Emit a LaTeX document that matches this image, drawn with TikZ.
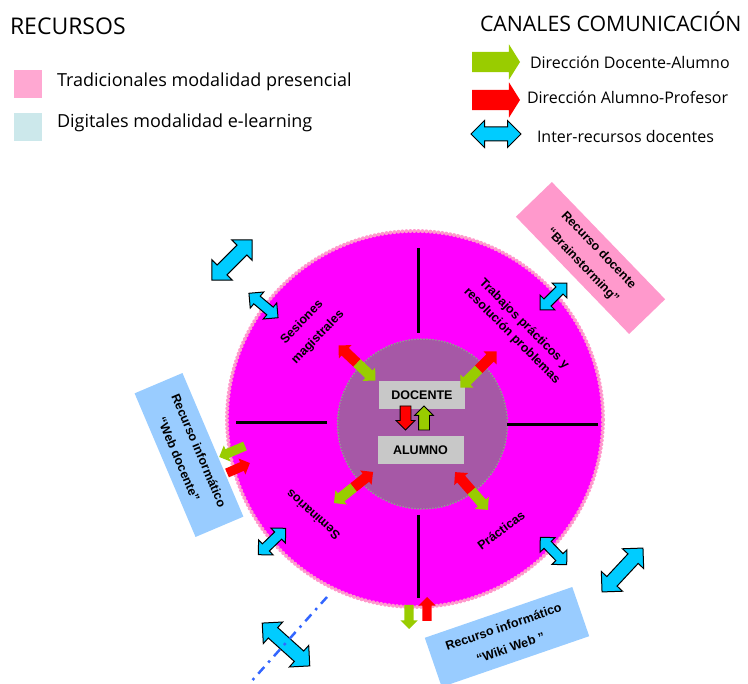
\documentclass[tikz,border=0pt]{standalone}
\usepackage{fontspec}
\setmainfont{Open Sans}
\newfontfamily\arialfont{Liberation Sans}
\usetikzlibrary{shapes.arrows}

\definecolor{ringpink}{RGB}{255,0,255}
\definecolor{ringedge}{RGB}{255,153,204}
\definecolor{corepurple}{RGB}{166,88,166}
\definecolor{coreedge}{RGB}{150,150,150}
\definecolor{taggray}{RGB}{200,200,200}
\definecolor{flowgreen}{RGB}{153,204,0}
\definecolor{flowred}{RGB}{255,0,0}
\definecolor{linkcyan}{RGB}{0,204,255}
\definecolor{boxpink}{RGB}{255,153,204}
\definecolor{boxblue}{RGB}{153,204,255}
\definecolor{keypink}{RGB}{255,168,210}
\definecolor{keycyan}{RGB}{204,232,235}
\definecolor{dashblue}{RGB}{51,102,255}

\begin{document}
\begin{tikzpicture}[x=1pt,y=-1pt]
        \tikzstyle{every node} = [inner sep=0pt, outer sep=0pt]
        \tikzstyle{heading} = [anchor=base west, font=\fontsize{23}{28}\selectfont]
        \tikzstyle{keytext} = [anchor=base west, font=\fontsize{18}{22}\selectfont]
        \tikzstyle{flowtext} = [anchor=base west, font=\fontsize{16}{20}\selectfont]
        \tikzstyle{keybox} = [rectangle, minimum size=28pt]
        \tikzstyle{ringlabel} = [align=center, font=\arialfont\bfseries\fontsize{12.5}{22}\selectfont]
        \tikzstyle{resbox} = [rectangle, align=center, minimum width=156pt, minimum height=52pt, font=\arialfont\bfseries\fontsize{12.5}{22}\selectfont]
        \tikzstyle{namebox} = [rectangle, fill=taggray, minimum width=86pt, minimum height=28pt, font=\arialfont\bfseries\fontsize{12.5}{15}\selectfont]
        \tikzstyle{linkarrow} = [double arrow, draw=black, line width=1pt, fill=linkcyan, inner xsep=0pt, inner ysep=4.5pt, double arrow head extend=5.5pt, minimum height=38pt]
        \tikzstyle{biglink} = [linkarrow, inner ysep=6.5pt, double arrow head extend=7.5pt, minimum height=60pt]
        \tikzstyle{halfarrow} = [single arrow, anchor=tail, inner xsep=0pt, inner ysep=5pt, single arrow head extend=4pt, minimum height=25.5pt]
        \tikzstyle{sidearrow} = [halfarrow, inner ysep=4.5pt, minimum height=26pt]
        \tikzstyle{keyarrow} = [single arrow, anchor=tail, inner xsep=0pt, inner ysep=10pt, single arrow head extend=7.5pt, single arrow tip angle=116, minimum height=48pt]
        \tikzstyle{divider} = [line width=3pt]
        \useasboundingbox (0,0) rectangle (748,684);

        % legend
        \node[heading](recursos) at (10,35) {RECURSOS};
        \node[keybox, fill=keypink](keytrad) at (28,84) {};
        \node[keybox, fill=keycyan](keydig) at (28,127.5) {};
        \node[keytext](trad) at (57,87) {Tradicionales modalidad presencial};
        \node[keytext](dig) at (57,128) {Digitales modalidad e-learning};

        \node[heading, font=\fontsize{21.3}{26}\selectfont](canales) at (480,32) {CANALES COMUNICACIÓN};
        \node[keyarrow, fill=flowgreen](keygreen) at (472,62) {};
        \node[keyarrow, fill=flowred](keyred) at (472,100) {};
        \node[linkarrow, inner ysep=6.5pt, double arrow head extend=6.5pt, minimum height=50pt](keylink) at (496,134) {};
        \node[flowtext](dirda) at (530,68.5) {Dirección Docente-Alumno};
        \node[flowtext](dirap) at (527,104) {Dirección Alumno-Profesor};
        \node[flowtext](inter) at (537,143) {Inter-recursos docentes};

        % rings
        \node[circle, fill=ringpink, draw=ringedge, line width=4pt, dash pattern=on 0pt off 4pt, line cap=round, minimum size=376pt](ring) at (415,419) {};
        \node[circle, fill=corepurple, draw=coreedge, line width=2pt, dash pattern=on 0pt off 3pt, line cap=round, minimum size=170pt](core) at (422.5,424) {};

        \draw[divider] (418,248) -- (418,333);
        \draw[divider] (418,515) -- (418,598);
        \draw[divider] (236,423) -- (327,423);
        \draw[divider] (507,424.5) -- (598,424.5);

        \node[ringlabel, rotate=46](sesiones) at (310,330) {Sesiones\\magistrales};
        \node[ringlabel, rotate=-45, font=\arialfont\bfseries\fontsize{12.5}{17}\selectfont](trabajos) at (518,330) {Trabajos prácticos y\\resolución problemas};
        \node[ringlabel, rotate=138](seminarios) at (313,515) {Seminarios};
        \node[ringlabel, rotate=37](practicas) at (501,530) {Prácticas};

        % docente / alumno
        \node[namebox](docente) at (422,395) {DOCENTE};
        \node[namebox](alumno) at (420.5,450) {ALUMNO};
        \node[halfarrow, draw=black, line width=0.8pt, fill=flowred, rotate=-90, minimum height=24pt](toalumno) at (405.5,406) {};
        \node[halfarrow, draw=black, line width=0.8pt, fill=flowgreen, rotate=90, minimum height=24pt](todocente) at (424,430) {};

        % two-colour arrows
        \node[halfarrow, fill=flowred, rotate=136.5](tlred) at (357,363) {};
        \node[halfarrow, fill=flowgreen, rotate=-43.5](tlgreen) at (357,363) {};
        \node[halfarrow, fill=flowred, rotate=45](trred) at (478.5,369.5) {};
        \node[halfarrow, fill=flowgreen, rotate=225](trgreen) at (478.5,369.5) {};
        \node[halfarrow, fill=flowred, rotate=38.5, minimum height=25pt](blred) at (353.5,487.5) {};
        \node[halfarrow, fill=flowgreen, rotate=218.5, minimum height=25pt](blgreen) at (353.5,487.5) {};
        \node[halfarrow, fill=flowred, rotate=131, minimum height=25pt](brred) at (471.5,491) {};
        \node[halfarrow, fill=flowgreen, rotate=-49, minimum height=25pt](brgreen) at (471.5,491) {};

        % resources
        \node[resbox, fill=boxpink, rotate=-46, minimum width=163pt, minimum height=50pt](brain) at (590.5,258) {Recurso docente\\“Brainstorming”};
        \node[resbox, fill=boxblue, rotate=-67](webdoc) at (189,455) {Recurso informático\\“Web docente”};
        \node[resbox, fill=boxblue, rotate=19](wiki) at (507,637) {Recurso informático\\“Wiki Web ”};

        \node[sidearrow, fill=flowgreen, rotate=203, minimum height=28pt](webgreen) at (245,446) {};
        \node[sidearrow, fill=flowred, rotate=23.5, minimum height=25pt](webred) at (227,473) {};
        \node[sidearrow, fill=flowgreen, rotate=-90, minimum height=24pt](wikigreen) at (409,605) {};
        \node[sidearrow, fill=flowred, rotate=90, minimum height=24pt](wikired) at (427,621) {};

        % inter-resource links
        \node[biglink, rotate=45, minimum height=57pt](linkA) at (232,260) {};
        \node[linkarrow, rotate=-40](linkB) at (263.5,305.5) {};
        \node[linkarrow, rotate=45](linkC) at (553.5,296.5) {};
        \node[linkarrow, rotate=44](linkD) at (272,541.5) {};
        \node[biglink, rotate=-42, minimum height=64pt](linkE) at (286,644.5) {};
        \node[linkarrow, rotate=-46](linkF) at (553.5,551) {};
        \node[biglink, rotate=47](linkG) at (622.5,570) {};

        \coordinate(dashA) at (327,597);
        \coordinate(dashB) at (249,684);
        \draw[dashblue, line width=2.5pt, dash pattern=on 9pt off 6pt on 2.5pt off 6pt] (dashA) -- (dashB);
\end{tikzpicture}
\end{document}
